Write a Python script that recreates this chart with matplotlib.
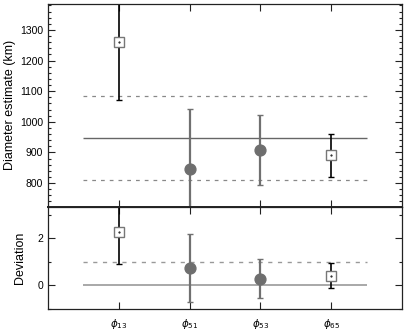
import matplotlib
matplotlib.use("Agg")
import matplotlib.pyplot as plt
from matplotlib.ticker import MultipleLocator

plt.rcParams['font.family'] = ['Liberation Sans', 'DejaVu Sans']
plt.rcParams['mathtext.fontset'] = 'dejavusans'

labels = [r'$\phi_{13}$', r'$\phi_{51}$', r'$\phi_{53}$', r'$\phi_{65}$']
xpos = [1, 2, 3, 4]
diam = [1260, 845, 908, 890]
diam_err = [190, 197, 115, 70]
dev = [2.28, 0.75, 0.28, 0.41]
dev_err_lo = [1.36, 1.45, 0.83, 0.51]
dev_err_hi = [1.36, 1.45, 0.84, 0.54]
kind = ['square', 'circle', 'circle', 'square']
mean_d = 946
spread_d = 137

fig = plt.figure(figsize=(4.07, 3.30), dpi=100)
ax1 = fig.add_axes([0.118, 0.373, 0.870, 0.615])
ax2 = fig.add_axes([0.118, 0.0636, 0.870, 0.309])

sq_col = '#777777'
ci_col = '#6e6e6e'

def draw(ax, y, elo, ehi):
    for x, v, lo, hi, k in zip(xpos, y, elo, ehi, kind):
        if k == 'square':
            ax.errorbar([x], [v], yerr=[[lo], [hi]], fmt='none', ecolor='black',
                        elinewidth=1.2, capsize=2.5, capthick=1.0, zorder=2)
            ax.plot([x], [v], marker='s', ms=7.4, mfc='white', mec=sq_col, mew=1.0,
                    ls='none', zorder=3)
            ax.plot([x], [v], marker='.', ms=1, color='black', zorder=4)
        else:
            ax.errorbar([x], [v], yerr=[[lo], [hi]], fmt='none', ecolor='#707070',
                        elinewidth=1.6, capsize=2.5, capthick=1.0, zorder=2)
            ax.plot([x], [v], marker='o', ms=7.8, mfc=ci_col, mec=ci_col,
                    ls='none', zorder=3)

draw(ax1, diam, diam_err, diam_err)
ax1.hlines(mean_d, 0.5, 4.5, color='#666666', lw=1.0, zorder=1)
ax1.hlines([mean_d + spread_d, mean_d - spread_d], 0.5, 4.5, color='#888888',
           lw=0.9, linestyles=(0, (3, 4)), zorder=1)
ax1.set_xlim(0, 5)
ax1.set_ylim(722, 1385)
ax1.yaxis.set_major_locator(MultipleLocator(100))
ax1.yaxis.set_minor_locator(MultipleLocator(20))
ax1.set_xticks(xpos)
ax1.set_xticklabels([])
ax1.set_ylabel('Diameter estimate (km)', fontsize=9, labelpad=3)

draw(ax2, dev, dev_err_lo, dev_err_hi)
ax2.hlines(0, 0.5, 4.5, color='#999999', lw=1.2, zorder=1)
ax2.hlines(1, 0.5, 4.5, color='#999999', lw=1.0, linestyles=(0, (3, 4)), zorder=1)
ax2.set_xlim(0, 5)
ax2.set_ylim(-1, 3.33)
ax2.yaxis.set_major_locator(MultipleLocator(2))
ax2.yaxis.set_minor_locator(MultipleLocator(1))
ax2.set_xticks(xpos)
ax2.set_xticklabels(labels, fontsize=7.5)
ax2.set_ylabel('Deviation', fontsize=9, labelpad=8)

for ax in (ax1, ax2):
    ax.tick_params(which='both', direction='in', top=True, right=True,
                   labelsize=7.5, width=0.8, color='#222222')
    ax.tick_params(which='major', length=5)
    ax.tick_params(which='minor', length=2.5)
    ax.tick_params(axis='x', which='minor', bottom=False, top=False)
    for s in ax.spines.values():
        s.set_linewidth(0.9)
        s.set_color('#222222')
ax2.tick_params(axis='x', pad=6)
ax1.spines['bottom'].set_linewidth(1.4)

fig.savefig('out.png', dpi=100)
